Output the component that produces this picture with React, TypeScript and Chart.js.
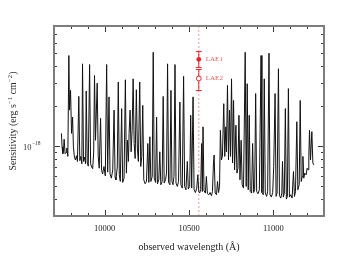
import React, { useEffect, useRef } from 'react';
import { Chart, registerables } from 'chart.js';

Chart.register(...registerables);

// observed wavelength in Angstrom
const WAVELENGTH = [
  9744, 9748, 9752, 9756, 9760, 9766, 9772, 9776, 9782, 9788,
  9792, 9798, 9804, 9810, 9815, 9821, 9827, 9833, 9839, 9847,
  9853, 9859, 9865, 9869, 9875, 9881, 9887, 9891, 9897, 9903,
  9911, 9917, 9923, 9929, 9935, 9940, 9946, 9950, 9956, 9962,
  9968, 9976, 9982, 9988, 9996, 10004, 10012, 10018, 10026, 10032,
  10040, 10048, 10056, 10062, 10067, 10075, 10081, 10087, 10093, 10101,
  10107, 10115, 10123, 10129, 10135, 10141, 10145, 10151, 10157, 10163,
  10169, 10175, 10181, 10188, 10194, 10200, 10208, 10214, 10220, 10226,
  10232, 10240, 10248, 10256, 10262, 10268, 10274, 10282, 10288, 10294,
  10302, 10308, 10313, 10321, 10327, 10333, 10341, 10347, 10353, 10361,
  10367, 10373, 10379, 10387, 10393, 10399, 10405, 10411, 10417, 10423,
  10431, 10438, 10446, 10452, 10460, 10468, 10474, 10482, 10490, 10496,
  10504, 10510, 10516, 10524, 10530, 10538, 10546, 10552, 10558, 10563,
  10569, 10575, 10579, 10583, 10589, 10597, 10603, 10609, 10617, 10625,
  10633, 10639, 10645, 10649, 10655, 10663, 10669, 10675, 10681, 10686,
  10692, 10698, 10706, 10712, 10718, 10722, 10728, 10734, 10740, 10746,
  10752, 10758, 10764, 10770, 10778, 10784, 10790, 10796, 10802, 10809,
  10815, 10823, 10833, 10839, 10845, 10851, 10857, 10863, 10871, 10877,
  10883, 10889, 10895, 10901, 10909, 10917, 10927, 10932, 10940, 10946,
  10952, 10960, 10966, 10974, 10980, 10988, 10996, 11002, 11010, 11016,
  11022, 11030, 11036, 11044, 11050, 11054, 11059, 11065, 11071, 11077,
  11083, 11089, 11095, 11103, 11111, 11119, 11125, 11131, 11139, 11145,
  11153, 11159, 11165, 11171, 11175, 11180, 11186, 11194, 11200, 11206,
  11210, 11214, 11220, 11228, 11234, 11240,
];

// sensitivity in units of 1e-18 erg s^-1 cm^-2
const SENSITIVITY = [
  1.25, 0.99, 0.88, 0.91, 1.13, 0.88, 0.90, 0.97, 0.84, 4.80,
  1.87, 2.63, 1.25, 1.66, 0.99, 0.83, 0.79, 0.85, 0.77, 2.37,
  0.78, 0.84, 0.74, 4.16, 0.77, 0.83, 0.74, 2.60, 0.76, 0.71,
  4.11, 0.74, 0.70, 0.68, 0.89, 3.40, 1.11, 1.66, 2.98, 0.84,
  0.685, 1.62, 0.66, 0.62, 0.705, 0.60, 4.11, 0.64, 2.35, 0.62,
  0.577, 0.666, 1.87, 0.587, 0.561, 0.70, 3.04, 0.611, 0.545, 1.92,
  0.536, 0.577, 3.16, 0.629, 1.11, 0.77, 1.25, 1.87, 0.91, 1.32,
  3.21, 1.05, 0.81, 2.66, 0.97, 0.77, 3.04, 0.705, 0.84, 2.03,
  0.561, 0.524, 0.545, 1.05, 0.536, 1.18, 0.545, 0.594, 5.08, 0.577,
  0.536, 1.66, 0.524, 0.561, 0.91, 0.515, 0.545, 2.37, 0.53, 0.561,
  0.629, 4.16, 0.536, 0.515, 2.63, 0.545, 0.515, 0.594, 4.11, 0.53,
  0.50, 0.545, 2.15, 0.515, 0.486, 3.35, 0.50, 0.472, 0.77, 0.478,
  0.50, 1.71, 0.486, 2.35, 0.472, 0.45, 0.486, 0.611, 0.458, 0.446,
  0.472, 1.05, 0.458, 1.40, 0.466, 0.446, 0.594, 0.441, 0.433, 0.45,
  0.426, 0.458, 0.75, 0.86, 0.446, 0.433, 0.545, 0.45, 0.50, 1.32,
  0.79, 0.84, 2.09, 0.84, 1.40, 0.91, 2.87, 0.79, 1.87, 0.84,
  3.21, 0.75, 2.21, 0.666, 1.44, 0.629, 0.685, 1.71, 0.561, 1.11,
  0.515, 0.486, 5.08, 0.50, 2.95, 0.472, 1.71, 0.458, 0.446, 1.05,
  0.45, 0.472, 2.49, 0.458, 0.441, 0.472, 4.80, 0.45, 0.433, 3.21,
  0.446, 0.421, 0.458, 5.00, 0.433, 0.416, 0.45, 0.705, 2.49, 0.421,
  0.446, 3.82, 0.426, 0.409, 0.446, 0.77, 0.416, 0.446, 1.92, 0.402,
  0.421, 2.71, 0.416, 0.433, 0.409, 0.647, 0.421, 0.458, 1.53, 0.472,
  0.515, 2.21, 0.545, 0.594, 0.84, 0.577, 0.629, 0.611, 0.685, 0.666,
  0.84, 1.32, 0.79, 1.29, 0.75, 0.725,
];

const LAE_NAMES = ['LAE1', 'LAE2'];
const LAE_WAVE = 10558;
const LAE_VALUE = [4.5, 3.23];
const LAE_LOW = [3.9, 2.62];
const LAE_HIGH = [5.14, 3.77];
const LAE_FILLED = [true, false];

const X_MIN = 9700;
const X_MAX = 11300;
const Y_MIN = 0.3;
const Y_MAX = 8;
const X_MAJOR_TICKS = [10000, 10500, 11000];
const X_MINOR_TICKS = [9800, 9900, 10100, 10200, 10300, 10400, 10600, 10700, 10800, 10900, 11100, 11200];
const Y_MAJOR_TICKS = [1];
const Y_MINOR_TICKS = [0.4, 0.5, 0.6, 0.7, 0.8, 0.9, 2, 3, 4, 5, 6, 7];
const Y_TICK_LABEL_BASE = '10';
const Y_TICK_LABEL_EXP = '\u221218';

const SERIF = '"Liberation Serif", "DejaVu Serif", serif';
const RED = '#e5262b';
const RED_TEXT = '#e85a5a';

const decorPlugin = {
  id: 'decor',
  afterDatasetsDraw(chart: any) {
    const { ctx } = chart;
    const xs = chart.scales.x;
    const ys = chart.scales.y;
    ctx.save();
    const px = xs.getPixelForValue(LAE_WAVE);
    for (let i = 0; i < LAE_NAMES.length; i++) {
      const yv = ys.getPixelForValue(LAE_VALUE[i]);
      const yl = ys.getPixelForValue(LAE_LOW[i]);
      const yh = ys.getPixelForValue(LAE_HIGH[i]);
      ctx.strokeStyle = RED;
      ctx.lineWidth = 1;
      ctx.beginPath();
      ctx.moveTo(px, yl);
      ctx.lineTo(px, yh);
      ctx.moveTo(px - 3, yl);
      ctx.lineTo(px + 3, yl);
      ctx.moveTo(px - 3, yh);
      ctx.lineTo(px + 3, yh);
      ctx.stroke();
      ctx.beginPath();
      ctx.arc(px, yv, 2.4, 0, Math.PI * 2);
      if (LAE_FILLED[i]) {
        ctx.fillStyle = RED;
        ctx.fill();
      } else {
        ctx.fillStyle = '#ffffff';
        ctx.fill();
        ctx.stroke();
      }
      ctx.fillStyle = RED_TEXT;
      ctx.font = '7px ' + SERIF;
      ctx.textAlign = 'left';
      ctx.textBaseline = 'middle';
      ctx.fillText(LAE_NAMES[i], px + 7, yv);
    }
    ctx.restore();
  },
  afterDraw(chart: any) {
    const { ctx, chartArea } = chart;
    const { left, right, top, bottom } = chartArea;
    const xs = chart.scales.x;
    const ys = chart.scales.y;
    ctx.save();
    // ticks
    ctx.strokeStyle = '#3a3a3a';
    ctx.lineWidth = 1;
    ctx.beginPath();
    const xt = (vals: number[], len: number) => {
      vals.forEach((v) => {
        const p = Math.round(xs.getPixelForValue(v)) + 0.5;
        ctx.moveTo(p, bottom);
        ctx.lineTo(p, bottom - len);
        ctx.moveTo(p, top);
        ctx.lineTo(p, top + len);
      });
    };
    const yt = (vals: number[], len: number) => {
      vals.forEach((v) => {
        const p = Math.round(ys.getPixelForValue(v)) + 0.5;
        ctx.moveTo(left, p);
        ctx.lineTo(left + len, p);
        ctx.moveTo(right, p);
        ctx.lineTo(right - len, p);
      });
    };
    xt(X_MAJOR_TICKS, 6);
    xt(X_MINOR_TICKS, 3);
    yt(Y_MAJOR_TICKS, 6);
    yt(Y_MINOR_TICKS, 3);
    ctx.stroke();
    // frame
    ctx.strokeStyle = '#7d7d7d';
    ctx.lineWidth = 2;
    ctx.strokeRect(left, top, right - left, bottom - top);
    // y tick label with superscript
    ctx.fillStyle = '#333333';
    ctx.textBaseline = 'middle';
    Y_MAJOR_TICKS.forEach((v) => {
      const p = ys.getPixelForValue(v);
      ctx.font = '5.5px ' + SERIF;
      const ew = ctx.measureText(Y_TICK_LABEL_EXP).width;
      const expRight = left - 13.5;
      ctx.textAlign = 'left';
      ctx.fillText(Y_TICK_LABEL_EXP, expRight - ew, p - 2.5);
      ctx.font = '8.5px ' + SERIF;
      ctx.textAlign = 'right';
      ctx.fillText(Y_TICK_LABEL_BASE, expRight - ew - 0.3, p + 1.5);
    });
    // y title with superscripts
    const segs: [string, boolean][] = [
      ['Sensitivity (erg s', false],
      ['\u22121', true],
      [' cm', false],
      ['\u22122', true],
      [')', false],
    ];
    const normal = '9.8px ' + SERIF;
    const sup = '6.5px ' + SERIF;
    let total = 0;
    const widths = segs.map(([t, s]) => {
      ctx.font = s ? sup : normal;
      const w = ctx.measureText(t).width + (s ? 0.6 : 0);
      total += w;
      return w;
    });
    ctx.translate(13.5, (top + bottom) / 2);
    ctx.rotate(-Math.PI / 2);
    ctx.textAlign = 'left';
    ctx.textBaseline = 'middle';
    ctx.fillStyle = '#2a2a2a';
    let x = -total / 2;
    segs.forEach(([t, s], i) => {
      ctx.font = s ? sup : normal;
      ctx.fillText(t, x + (s ? 0.3 : 0), s ? -3 : 0);
      x += widths[i];
    });
    ctx.restore();
  },
};

export default function App() {
  const ref = useRef<HTMLCanvasElement | null>(null);
  useEffect(() => {
    if (!ref.current) return;
    const spectrum = WAVELENGTH.map((w, i) => ({ x: w, y: SENSITIVITY[i] }));
    const chart = new Chart(ref.current, {
      type: 'scatter',
      data: {
        datasets: [
          {
            data: spectrum,
            showLine: true,
            borderColor: '#111111',
            borderWidth: 1,
            pointRadius: 0,
            tension: 0,
          },
          {
            data: [
              { x: LAE_WAVE, y: Y_MIN },
              { x: LAE_WAVE, y: Y_MAX },
            ],
            showLine: true,
            borderColor: '#f29a9a',
            borderWidth: 1,
            borderDash: [2, 2],
            pointRadius: 0,
          },
        ],
      },
      plugins: [decorPlugin],
      options: {
        animation: false,
        responsive: false,
        devicePixelRatio: 1,
        layout: { padding: { top: 26, right: 36, left: 0, bottom: 0 } },
        plugins: { legend: { display: false }, tooltip: { enabled: false } },
        scales: {
          x: {
            type: 'linear',
            min: X_MIN,
            max: X_MAX,
            afterBuildTicks: (s: any) => {
              s.ticks = X_MAJOR_TICKS.map((value) => ({ value }));
            },
            afterFit: (s: any) => {
              s.height = 54;
            },
            grid: { display: false, drawTicks: false },
            border: { display: false },
            ticks: {
              font: { family: SERIF, size: 8.5 },
              color: '#222222',
              padding: 8,
              maxRotation: 0,
              autoSkip: false,
              callback: (v: any) => String(v),
            },
            title: {
              display: true,
              text: 'observed wavelength (\u00c5)',
              font: { family: SERIF, size: 10 },
              color: '#222222',
              padding: { top: 0, bottom: 17 },
            },
          },
          y: {
            type: 'logarithmic',
            min: Y_MIN,
            max: Y_MAX,
            afterFit: (s: any) => {
              s.width = 54;
            },
            grid: { display: false, drawTicks: false },
            border: { display: false },
            ticks: { display: false },
          },
        },
      },
    } as any);
    return () => chart.destroy();
  }, []);
  return (
    <div style={{ position: 'fixed', left: 0, top: 0, width: 360, height: 270, background: '#fff' }}>
      <canvas ref={ref} width={360} height={270} style={{ width: 360, height: 270, display: 'block' }} />
    </div>
  );
}
